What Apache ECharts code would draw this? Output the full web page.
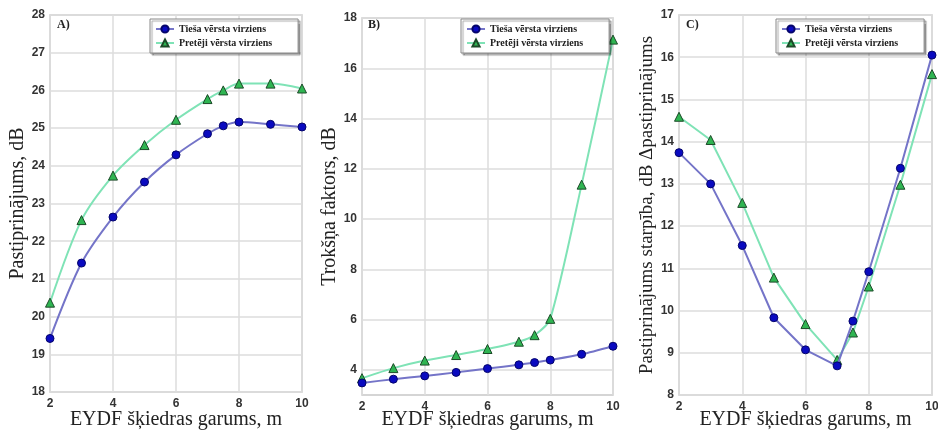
<!DOCTYPE html>
<html>
<head>
<meta charset="utf-8">
<script src="https://cdn.jsdelivr.net/npm/echarts@6/dist/echarts.min.js"></script>
<style>html,body{margin:0;padding:0;background:#fff}#c{width:938px;height:433px}</style>
</head>
<body>
<div id="c"></div>
<script>
// ---- Data ----
const xLengths = [2, 3, 4, 5, 6, 7, 7.5, 8, 9, 10];
const seriesNames = ['Tieša vērsta virziens', 'Pretēji vērsta virziens'];
const panelLabels = ['A)', 'B)', 'C)'];
const xAxisName = 'EYDF šķiedras garums, m';
const yAxisNames = ['Pastiprinājums, dB', 'Trokšņa faktors, dB', 'Pastiprinājums starpība, dB Δpastiprinājums'];

// A) gain
const gainForward  = [19.42, 21.42, 22.64, 23.57, 24.29, 24.85, 25.06, 25.16, 25.10, 25.03];
const gainBackward = [20.37, 22.56, 23.74, 24.55, 25.22, 25.77, 26.00, 26.18, 26.18, 26.05];
// B) noise figure
const nfForward  = [3.48, 3.63, 3.76, 3.90, 4.05, 4.20, 4.29, 4.39, 4.62, 4.94];
const nfBackward = [3.67, 4.07, 4.37, 4.59, 4.83, 5.12, 5.38, 6.03, 11.37, 17.14];
// C) gain difference
const diffForward  = [13.74, 13.00, 11.54, 9.83, 9.07, 8.69, 9.75, 10.92, 13.37, 16.05];
const diffBackward = [14.59, 14.04, 12.55, 10.78, 9.68, 8.83, 9.48, 10.57, 12.98, 15.60];

const yRanges = [[18, 28, 1], [3, 18, 1], [8, 17, 1]];

// ---- Layout ----
const grids = [
  {left: 50, width: 252, top: 15, bottom: 41},
  {left: 362, width: 251, top: 18, bottom: 38},
  {left: 679, width: 253, top: 15, bottom: 38}
];
const legendPos = [{left: 150, top: 19}, {left: 461, top: 19}, {left: 776, top: 19}];
const titlePos = [{left: 57, top: 19}, {left: 368, top: 19}, {left: 686, top: 19}];
const yNameGap = [21, 21, 22];
const xNameGap = [18, 15, 15];

const blueLine = '#7474c8', blueMark = '#0a0ac0';
const greenLine = '#7fe3b6', greenMark = '#2fb552';

const panelData = [[gainForward, gainBackward], [nfForward, nfBackward], [diffForward, diffBackward]];
const smoothFlags = [0.3, 0.25, false];

const series = [];
panelData.forEach((pair, p) => {
  pair.forEach((vals, k) => {
    series.push({
      name: seriesNames[k],
      type: 'line',
      xAxisIndex: p, yAxisIndex: p,
      data: xLengths.map((x, i) => [x, vals[i]]),
      smooth: smoothFlags[p],
      symbol: k === 0 ? 'circle' : 'triangle',
      symbolSize: k === 0 ? 8 : 9,
      lineStyle: {color: k === 0 ? blueLine : greenLine, width: 2},
      itemStyle: {color: k === 0 ? blueMark : greenMark, borderColor: k === 0 ? '#05056a' : '#1c4a28', borderWidth: 1},
      z: k === 0 ? 3 : 2
    });
  });
});

const tickFont = {fontFamily: 'Liberation Sans', fontWeight: 'bold', fontSize: 12, color: '#333'};
const nameFont = {fontFamily: 'Liberation Serif', fontSize: 20, color: '#222'};

const option = {
  animation: false,
  backgroundColor: '#fff',
  title: panelLabels.map((t, i) => ({
    text: t, left: titlePos[i].left, top: titlePos[i].top, padding: 0,
    textStyle: {fontFamily: 'Liberation Serif', fontWeight: 'bold', fontSize: 12, color: '#222'}
  })),
  legend: legendPos.map(pos => ({
    data: seriesNames,
    orient: 'vertical',
    left: pos.left, top: pos.top,
    padding: [5, 26, 5, 5],
    itemGap: 4,
    itemWidth: 18, itemHeight: 9,
    backgroundColor: '#fff',
    borderColor: '#888', borderWidth: 1,
    shadowColor: 'rgba(0,0,0,0.35)', shadowOffsetX: 2, shadowOffsetY: 2, shadowBlur: 1,
    textStyle: {fontFamily: 'Liberation Serif', fontWeight: 'bold', fontSize: 10, color: '#222'}
  })),
  grid: grids.map(g => Object.assign({show: true, borderColor: '#c8c8c8', borderWidth: 1.5, backgroundColor: '#fff', outerBoundsMode: 'none', containLabel: false}, g)),
  xAxis: grids.map((g, i) => ({
    type: 'value', gridIndex: i, min: 2, max: 10, interval: 2,
    name: xAxisName, nameLocation: 'middle', nameGap: xNameGap[i], nameMoveOverlap: false, nameTextStyle: nameFont,
    axisLine: {show: false}, axisTick: {show: false},
    axisLabel: Object.assign({margin: 6}, tickFont),
    splitLine: {show: true, lineStyle: {color: '#dcdcdc', width: 1.5}}
  })),
  yAxis: yRanges.map((r, i) => ({
    type: 'value', gridIndex: i, min: r[0], max: r[1], interval: r[2],
    name: yAxisNames[i], nameLocation: 'middle', nameGap: yNameGap[i],
    nameTextStyle: i === 2 ? Object.assign({}, nameFont, {fontSize: 19}) : nameFont,
    axisLine: {show: false}, axisTick: {show: false},
    axisLabel: Object.assign({margin: 5, formatter: v => (i === 1 && v % 2 !== 0) ? '' : String(v)}, tickFont),
    splitLine: {show: true, lineStyle: {color: i === 1 ? ['rgba(0,0,0,0)', '#dcdcdc'] : '#dcdcdc', width: 1.5}}
  })),
  series: series
};

const chart = echarts.init(document.getElementById('c'), null, {renderer: 'canvas'});
chart.setOption(option);
</script>
</body>
</html>
